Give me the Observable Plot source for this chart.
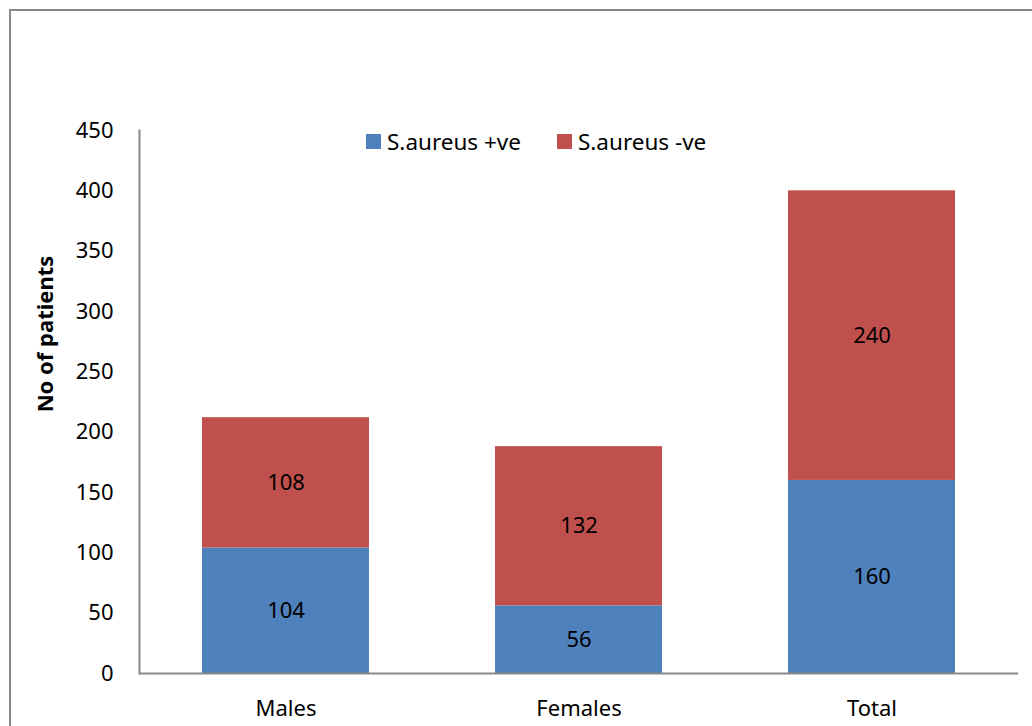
<!DOCTYPE html>
<html>
<head>
<meta charset="utf-8">
<script src="https://cdn.jsdelivr.net/npm/d3@7"></script>
<script src="https://cdn.jsdelivr.net/npm/@observablehq/plot@0.6"></script>
<style>
  html, body { margin: 0; padding: 0; background: #fff; }
  #wrap { position: relative; width: 1032px; height: 726px; overflow: hidden; font-family: "Noto Sans", "Open Sans", sans-serif; }
  #border { position: absolute; left: 9px; top: 9px; width: 1100px; height: 800px; border-left: 2px solid #878787; border-top: 2px solid #878787; box-sizing: border-box; pointer-events: none; }
  #legend { position: absolute; top: 126px; left: 366px; display: flex; gap: 36px; font-size: 22.5px; color: #000; align-items: center; }
  #legend .item { display: flex; align-items: center; }
  #legend .sw { width: 15px; height: 15px; margin-right: 6px; }
</style>
</head>
<body>
<div id="wrap">
  <div id="chart"></div>
  <div id="legend"></div>
  <div id="border"></div>
</div>
<script>
const categories = ["Males", "Females", "Total"];
const seriesNames = ["S.aureus +ve", "S.aureus -ve"];
const positive = [104, 56, 160];
const negative = [108, 132, 240];
const yTicks = [0, 50, 100, 150, 200, 250, 300, 350, 400, 450];
const colors = ["#4F81BD", "#C0504D"];
const yLabel = "No of patients";

const data = [];
categories.forEach((c, i) => {
  data.push({category: c, series: seriesNames[0], value: positive[i]});
  data.push({category: c, series: seriesNames[1], value: negative[i]});
});

const chart = Plot.plot({
  width: 1032,
  height: 726,
  marginLeft: 139,
  marginRight: 14,
  marginTop: 130,
  marginBottom: 53,
  style: {fontFamily: '"Noto Sans", "Open Sans", sans-serif', fontSize: "22px", color: "#000", background: "#fff"},
  x: {domain: categories, paddingInner: 0.43, paddingOuter: 0.215, label: null},
  y: {domain: [0, 450], label: null},
  color: {domain: seriesNames, range: colors},
  marks: [
    Plot.barY(data, Plot.stackY({x: "category", y: "value", fill: "series", order: seriesNames})),
    Plot.text(data, Plot.stackY({x: "category", y: "value", z: "series", order: seriesNames, text: d => String(d.value), fill: "#000", fontSize: 22})),
    Plot.axisY({ticks: yTicks, tickSize: 0, tickPadding: 26, label: null, fontSize: 22}),
    Plot.axisX({tickSize: 0, tickPadding: 27, label: null, fontSize: 22}),
    Plot.frame({anchor: "left", stroke: "#888", strokeWidth: 2}),
    Plot.ruleY([0], {stroke: "#888", strokeWidth: 2}),
    Plot.text([yLabel], {frameAnchor: "left", textAnchor: "middle", rotate: -90, dx: -94, dy: -68, fontWeight: "bold", fontSize: 22, fill: "#000"})
  ]
});
document.getElementById("chart").appendChild(chart);

const legend = document.getElementById("legend");
seriesNames.forEach((s, i) => {
  const item = document.createElement("div");
  item.className = "item";
  const sw = document.createElement("div");
  sw.className = "sw";
  sw.style.background = colors[i];
  const t = document.createElement("span");
  t.textContent = s;
  item.appendChild(sw);
  item.appendChild(t);
  legend.appendChild(item);
});
</script>
</body>
</html>
